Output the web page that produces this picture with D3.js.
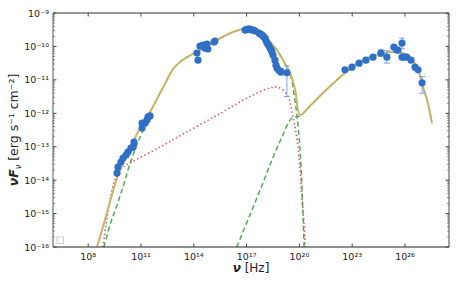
<!DOCTYPE html>
<html>
<head>
<meta charset="utf-8">
<script src="https://cdn.jsdelivr.net/npm/d3@7"></script>
<style>
  body { margin: 0; background: #fff; }
  text { font-family: "DejaVu Sans", sans-serif; }
</style>
</head>
<body>
<svg id="chart" width="458" height="286"></svg>
<script>
// all values are log10 (nu in Hz, nuFnu in erg s^-1 cm^-2)
let obsNu = [9.64, 9.69, 9.86, 9.98, 10.15, 10.26, 10.43, 10.55, 10.6, 11.06, 11.06, 11.23, 11.34, 11.4, 11.51,
    14.24, 14.18, 14.35, 14.52, 14.63, 14.75, 14.8, 15.15, 15.2,
    16.91, 17.0, 17.1, 17.19, 17.3, 17.4, 17.48, 17.7, 17.8, 17.88, 17.95, 18.05, 18.1, 18.16, 18.25, 18.33, 18.4, 18.44, 18.5, 18.61, 18.67, 18.73, 18.85, 18.95, 19.29,
    22.59, 22.99, 23.39, 23.78, 24.18, 24.63, 24.97, 25.37, 25.54, 25.6, 25.83, 25.83, 25.95, 26.1, 26.34, 26.57, 26.74, 26.97];
let obsFlux = [-13.79, -13.61, -13.46, -13.34, -13.25, -13.16, -13.04, -13.01, -12.86, -12.44, -12.29, -12.29, -12.2, -12.11, -12.08,
    -10.41, -10.2, -9.99, -9.96, -10.05, -9.93, -10.08, -9.87, -9.84,
    -9.51, -9.49, -9.48, -9.48, -9.5, -9.52, -9.54, -9.6, -9.63, -9.66, -9.7, -9.75, -9.82, -9.9, -9.97, -10.05, -10.1, -10.17, -10.26, -10.41, -10.56, -10.65, -10.72, -10.76, -10.79,
    -10.7, -10.62, -10.5, -10.41, -10.32, -10.2, -10.32, -10.02, -10.11, -10.11, -9.9, -10.32, -10.32, -10.32, -10.41, -10.62, -10.7, -11.09];
// error bars
let errNu = [18.95, 19.29, 24.63, 24.97, 25.83, 26.97];
let errLow = [-10.86, -11.5, -10.3, -10.5, -10.07, -11.4];
let errHigh = [-10.66, -10.58, -10.1, -10.13, -9.75, -10.9];

let totalNu = [8.5, 8.95, 9.35, 9.69, 10.15, 10.66, 11.06, 11.51, 11.97, 12.42, 12.82, 13.3, 14.35, 15.32, 16.23, 17.02, 17.48, 17.76, 18.22, 18.73, 19.13, 19.47, 19.76, 20.04, 20.6, 21.2, 21.91, 22.87, 23.84, 24.75, 25.54, 26.11, 26.68, 27.02, 27.3, 27.53];
let totalFlux = [-16.0, -15.19, -14.44, -13.85, -13.25, -12.74, -12.32, -11.96, -11.51, -11.06, -10.68, -10.43, -10.11, -9.81, -9.57, -9.45, -9.45, -9.57, -9.81, -10.11, -10.47, -10.79, -11.3, -12.05, -11.78, -11.47, -11.11, -10.67, -10.35, -10.2, -10.17, -10.26, -10.62, -11.21, -11.69, -12.29];

let zone2Nu = [8.84, 9.01, 9.24, 9.47, 9.69, 9.95, 10.5, 12.08, 13.39, 15.32, 17.19, 18.33, 18.78, 19.3, 19.64, 19.87, 20.04, 20.15, 20.27, 20.33];
let zone2Flux = [-16.0, -15.34, -14.59, -14.06, -13.78, -13.62, -13.45, -13.01, -12.62, -12.06, -11.5, -11.24, -11.22, -11.45, -12.11, -12.8, -13.7, -14.59, -15.34, -16.0];

let syncNu = [8.9, 9.24, 9.64, 9.98, 10.26, 10.55, 10.83, 11.17, 11.51, 11.97, 12.42, 12.82, 13.3, 14.35, 15.32, 16.23, 17.02, 17.48, 17.76, 18.22, 18.73, 19.13, 19.47, 19.7, 19.87, 20.04, 20.15, 20.27];
let syncFlux = [-16.0, -15.34, -14.74, -14.2, -13.7, -13.25, -12.86, -12.44, -11.98, -11.51, -11.06, -10.68, -10.43, -10.11, -9.81, -9.57, -9.45, -9.45, -9.57, -9.81, -10.11, -10.47, -10.82, -11.45, -12.11, -13.1, -14.29, -16.0];

let icNu = [16.44, 17.19, 17.88, 18.44, 19.01, 19.58, 20.04, 20.6, 21.2, 21.91, 22.87, 23.84, 24.75, 25.54, 26.11, 26.68, 27.02, 27.3, 27.53];
let icFlux = [-16.0, -15.04, -14.15, -13.4, -12.71, -12.14, -12.08, -11.78, -11.47, -11.11, -10.67, -10.35, -10.2, -10.17, -10.26, -10.62, -11.21, -11.69, -12.29];

let xTicks = [8, 11, 14, 17, 20, 23, 26];
let yTicks = [-16, -15, -14, -13, -12, -11, -10, -9];

let svg = d3.select("#chart");
let pL = 53, pR = 449, pT = 13, pB = 247;

let x = d3.scaleLinear().domain([6, 28.5]).range([pL, pR]);
let y = d3.scaleLinear().domain([-16, -9]).range([pB, pT]);

let sup = { "-": "\u207B", "0": "\u2070", "1": "\u00B9", "2": "\u00B2", "3": "\u00B3", "4": "\u2074", "5": "\u2075", "6": "\u2076", "7": "\u2077", "8": "\u2078", "9": "\u2079" };
let pow = e => "10" + String(e).split("").map(c => sup[c]).join("");

let plot = svg.append("g");
plot.append("clipPath").attr("id", "clip")
    .append("rect").attr("x", pL).attr("y", pT).attr("width", pR - pL).attr("height", pB - pT);

let line = d3.line().x(d => x(d[0])).y(d => y(d[1])).curve(d3.curveCatmullRom.alpha(0.5));
let curves = plot.append("g").attr("clip-path", "url(#clip)");

curves.append("path").datum(d3.zip(syncNu, syncFlux)).attr("d", line)
    .attr("fill", "none").attr("stroke", "#4fa85a").attr("stroke-width", 1.5).attr("stroke-dasharray", "5,3");
curves.append("path").datum(d3.zip(icNu, icFlux)).attr("d", line)
    .attr("fill", "none").attr("stroke", "#4fa85a").attr("stroke-width", 1.5).attr("stroke-dasharray", "5,3");
curves.append("path").datum(d3.zip(zone2Nu, zone2Flux)).attr("d", line)
    .attr("fill", "none").attr("stroke", "#d9545a").attr("stroke-width", 1.6).attr("stroke-dasharray", "1.4,2.6");
curves.append("path").datum(d3.zip(totalNu, totalFlux)).attr("d", line)
    .attr("fill", "none").attr("stroke", "#c9b46c").attr("stroke-width", 2);

// error bars
let errs = plot.append("g").attr("stroke", "#7fa6e6").attr("stroke-width", 1);
errNu.forEach((n, i) => {
    errs.append("line").attr("x1", x(n)).attr("x2", x(n)).attr("y1", y(errLow[i])).attr("y2", y(errHigh[i]));
    errs.append("line").attr("x1", x(n) - 3).attr("x2", x(n) + 3).attr("y1", y(errLow[i])).attr("y2", y(errLow[i]));
    errs.append("line").attr("x1", x(n) - 3).attr("x2", x(n) + 3).attr("y1", y(errHigh[i])).attr("y2", y(errHigh[i]));
});

plot.append("g").selectAll("circle").data(d3.zip(obsNu, obsFlux)).join("circle")
    .attr("cx", d => x(d[0])).attr("cy", d => y(d[1])).attr("r", 3.6)
    .attr("fill", "#2f6fc6");

// spines
svg.append("line").attr("x1", pL).attr("x2", pR).attr("y1", pT).attr("y2", pT).attr("stroke", "#999").attr("stroke-width", 2);
svg.append("line").attr("x1", pL).attr("x2", pL).attr("y1", pT).attr("y2", pB).attr("stroke", "#aaa").attr("stroke-width", 2);
svg.append("line").attr("x1", pR).attr("x2", pR).attr("y1", pT).attr("y2", pB).attr("stroke", "#444").attr("stroke-width", 1);
svg.append("line").attr("x1", pL).attr("x2", pR).attr("y1", pB).attr("y2", pB).attr("stroke", "#222").attr("stroke-width", 1);

// ticks
let ticks = svg.append("g").attr("stroke", "#444").attr("stroke-width", 1);
xTicks.forEach(t => {
    ticks.append("line").attr("x1", x(t)).attr("x2", x(t)).attr("y1", pB).attr("y2", pB - 3.5);
    ticks.append("line").attr("x1", x(t)).attr("x2", x(t)).attr("y1", pT).attr("y2", pT + 3.5);
});
yTicks.forEach(t => {
    ticks.append("line").attr("x1", pL).attr("x2", pL + 3.5).attr("y1", y(t)).attr("y2", y(t));
    ticks.append("line").attr("x1", pR).attr("x2", pR - 3.5).attr("y1", y(t)).attr("y2", y(t));
    if (t < -9) d3.range(2, 10).forEach(m => {
        let v = t + Math.log10(m);
        ticks.append("line").attr("x1", pL).attr("x2", pL + 2).attr("y1", y(v)).attr("y2", y(v)).attr("stroke-width", 0.6);
        ticks.append("line").attr("x1", pR).attr("x2", pR - 2).attr("y1", y(v)).attr("y2", y(v)).attr("stroke-width", 0.6);
    });
});

svg.append("g").selectAll("text").data(xTicks).join("text")
    .attr("x", d => x(d)).attr("y", pB + 13).attr("text-anchor", "middle")
    .attr("font-size", 9.5).attr("fill", "#222").text(d => pow(d));
svg.append("g").selectAll("text").data(yTicks).join("text")
    .attr("x", pL - 4).attr("y", d => y(d) + 3.5).attr("text-anchor", "end")
    .attr("font-size", 9.5).attr("fill", "#222").text(d => pow(d));

// axis titles
let xl = svg.append("text").attr("x", 251).attr("y", 272).attr("text-anchor", "middle")
    .attr("font-size", 12).attr("fill", "#222");
xl.append("tspan").attr("font-weight", "bold").attr("font-style", "italic").text("\u03BD");
xl.append("tspan").text(" [Hz]");

let yl = svg.append("text").attr("transform", "translate(18," + ((pT + pB) / 2) + ") rotate(-90)")
    .attr("text-anchor", "middle").attr("font-size", 12.5).attr("fill", "#222");
yl.append("tspan").attr("font-weight", "bold").attr("font-style", "italic").text("\u03BDF");
yl.append("tspan").attr("font-style", "italic").attr("font-size", 8).attr("dy", 3).text("\u03BD");
yl.append("tspan").attr("dy", -3).text(" [erg s\u207B\u00B9 cm\u207B\u00B2]");

// empty legend marker
svg.append("rect").attr("x", 57).attr("y", 237).attr("width", 6.5).attr("height", 6.5)
    .attr("fill", "#fff").attr("stroke", "#ccc").attr("stroke-width", 1);
</script>
</body>
</html>
